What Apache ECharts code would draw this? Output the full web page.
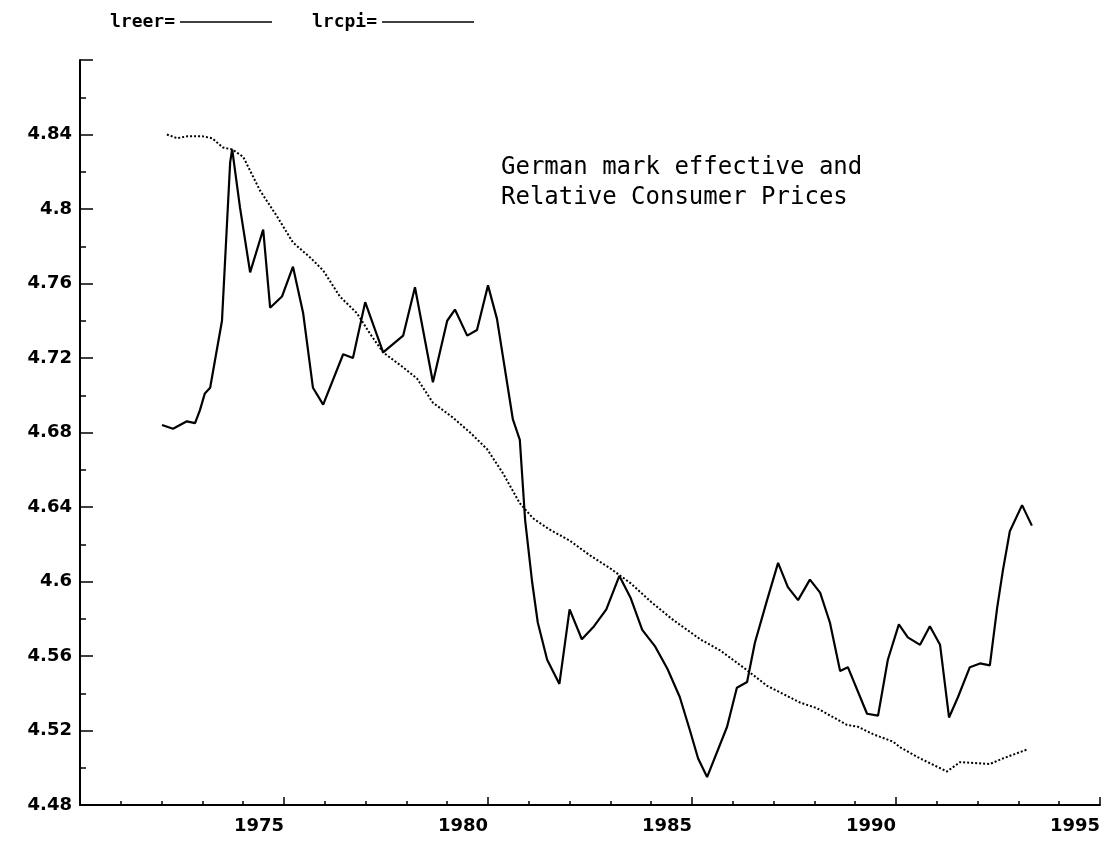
<!DOCTYPE html>
<html>
<head>
<meta charset="utf-8">
<style>
  html, body { margin: 0; padding: 0; background: #fff; }
  #chart { width: 1114px; height: 848px; }
</style>
<script src="https://cdn.jsdelivr.net/npm/echarts@6/dist/echarts.min.js"></script>
</head>
<body>
<div id="chart"></div>
<script>
// lreer (solid)
var reerYears = [1972.01, 1972.28, 1972.62, 1972.82, 1972.94, 1973.06, 1973.19, 1973.48, 1973.68, 1973.73,
  1973.92, 1974.17, 1974.49, 1974.66, 1974.95, 1975.22, 1975.47, 1975.71, 1975.96, 1976.45,
  1976.69, 1976.99, 1977.43, 1977.92, 1978.21, 1978.65, 1979.00, 1979.19, 1979.49, 1979.73,
  1980.00, 1980.22, 1980.61, 1980.78, 1980.91, 1981.08, 1981.22, 1981.45, 1981.75, 1982.00,
  1982.30, 1982.60, 1982.90, 1983.22, 1983.50, 1983.78, 1984.10, 1984.40, 1984.70, 1984.95,
  1985.15, 1985.37, 1985.86, 1986.10, 1986.35, 1986.54, 1986.84, 1987.11, 1987.35, 1987.60,
  1987.89, 1988.14, 1988.38, 1988.63, 1988.82, 1989.29, 1989.56, 1989.80, 1990.07, 1990.29,
  1990.59, 1990.83, 1991.08, 1991.30, 1991.52, 1991.81, 1992.06, 1992.30, 1992.48, 1992.62,
  1992.79, 1993.09, 1993.33];
var reerValues = [4.684, 4.682, 4.686, 4.685, 4.692, 4.701, 4.704, 4.740, 4.825, 4.832,
  4.801, 4.766, 4.789, 4.747, 4.753, 4.769, 4.744, 4.704, 4.695, 4.722,
  4.720, 4.750, 4.723, 4.732, 4.758, 4.707, 4.740, 4.746, 4.732, 4.735,
  4.759, 4.741, 4.687, 4.676, 4.633, 4.600, 4.578, 4.558, 4.545, 4.585,
  4.569, 4.576, 4.585, 4.603, 4.591, 4.574, 4.565, 4.553, 4.538, 4.520,
  4.505, 4.495, 4.522, 4.543, 4.546, 4.567, 4.590, 4.610, 4.597, 4.590,
  4.601, 4.594, 4.578, 4.552, 4.554, 4.529, 4.528, 4.558, 4.577, 4.570,
  4.566, 4.576, 4.566, 4.527, 4.538, 4.554, 4.556, 4.555, 4.586, 4.606,
  4.627, 4.641, 4.630];

// lrcpi (dotted)
var rcpiYears = [1972.13, 1972.38, 1972.62, 1973.01, 1973.24, 1973.50, 1973.73, 1974.00, 1974.41, 1974.83,
  1975.22, 1975.64, 1975.96, 1976.37, 1976.79, 1977.11, 1977.43, 1977.92, 1978.26, 1978.65,
  1979.14, 1979.56, 1979.98, 1980.37, 1980.78, 1981.10, 1981.50, 1982.00, 1982.50, 1983.00,
  1983.50, 1984.00, 1984.50, 1985.20, 1985.69, 1986.25, 1986.84, 1987.65, 1988.06, 1988.80,
  1989.07, 1989.44, 1989.93, 1990.10, 1990.59, 1991.25, 1991.57, 1992.30, 1992.62, 1993.24];
var rcpiValues = [4.840, 4.838, 4.839, 4.839, 4.838, 4.833, 4.832, 4.828, 4.810, 4.796,
  4.782, 4.774, 4.767, 4.753, 4.744, 4.733, 4.723, 4.715, 4.709, 4.696,
  4.688, 4.680, 4.671, 4.658, 4.642, 4.634, 4.628, 4.622, 4.614, 4.607,
  4.599, 4.589, 4.580, 4.569, 4.563, 4.554, 4.544, 4.535, 4.532, 4.523,
  4.522, 4.518, 4.514, 4.511, 4.505, 4.498, 4.503, 4.502, 4.505, 4.510];

var xLabels = [1975, 1980, 1985, 1990, 1995];
var titleLines = ['German mark effective and', 'Relative Consumer Prices'];

function pairs(xs, ys) {
  return xs.map(function (x, i) { return [x, ys[i]]; });
}

var axisFont = { color: '#000', fontFamily: 'DejaVu Sans', fontWeight: 'bold', fontSize: 18 };

var chart = echarts.init(document.getElementById('chart'), null, { renderer: 'canvas' });
chart.setOption({
  animation: false,
  backgroundColor: '#fff',
  title: {
    text: titleLines.join('\n'),
    left: 496,
    top: 148,
    textStyle: { color: '#000', fontFamily: 'DejaVu Sans Mono', fontWeight: 'normal', fontSize: 24, lineHeight: 30 }
  },
  legend: {
    left: 105,
    top: 8,
    align: 'right',
    icon: 'rect',
    itemWidth: 92,
    itemHeight: 1.5,
    itemGap: 40,
    formatter: '{name}=',
    itemStyle: { color: '#000' },
    textStyle: { color: '#000', fontFamily: 'DejaVu Sans Mono', fontWeight: 'bold', fontSize: 18, padding: [0, 0, 12, 0] }
  },
  grid: { left: 80, right: 14, top: 60, bottom: 43, containLabel: false },
  xAxis: {
    type: 'value',
    min: 1970,
    max: 1995,
    interval: 5,
    axisLine: { lineStyle: { color: '#000', width: 2 } },
    axisTick: { inside: true, length: 8, lineStyle: { color: '#000', width: 1.5 } },
    minorTick: { show: true, splitNumber: 5, length: 4, lineStyle: { color: '#000', width: 1.5 } },
    splitLine: { show: false },
    axisLabel: Object.assign({
      margin: 12,
      align: 'right',
      formatter: function (v) { return xLabels.indexOf(v) >= 0 ? String(v) : ''; }
    }, axisFont)
  },
  yAxis: {
    type: 'value',
    min: 4.48,
    max: 4.88,
    interval: 0.04,
    axisLine: { show: true, lineStyle: { color: '#000', width: 2 } },
    axisTick: { show: true, inside: true, length: 13, lineStyle: { color: '#000', width: 1.5 } },
    minorTick: { show: true, splitNumber: 2, length: 6, lineStyle: { color: '#000', width: 1.5 } },
    splitLine: { show: false },
    axisLabel: Object.assign({
      margin: 8,
      formatter: function (v) { return v > 4.87 ? '' : String(+v.toFixed(2)); }
    }, axisFont)
  },
  series: [
    {
      name: 'lreer',
      type: 'line',
      symbol: 'none',
      data: pairs(reerYears, reerValues),
      lineStyle: { color: '#000', width: 2.2 },
      itemStyle: { color: '#000' }
    },
    {
      name: 'lrcpi',
      type: 'line',
      symbol: 'none',
      data: pairs(rcpiYears, rcpiValues),
      lineStyle: { color: '#000', width: 2, type: [2, 2] },
      itemStyle: { color: '#000' }
    }
  ]
});
</script>
</body>
</html>
